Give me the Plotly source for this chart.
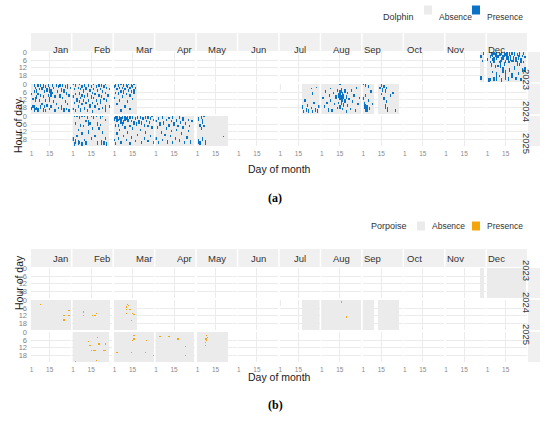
import plotly.graph_objects as go
import numpy as np

months = ["Jan", "Feb", "Mar", "Apr", "May", "Jun",
          "Jul", "Aug", "Sep", "Oct", "Nov", "Dec"]
years = ["2023", "2024", "2025"]
hour_ticks = [0, 6, 12, 18]
day_ticks = [1, 15]

# recording effort: (first day, last day[, first hour, last hour])
rec_2023_nov = [(28, 30)]
rec_2023_dec = [(1, 30)]
rec_2024_jan = [(1, 31)]
rec_2024_feb = [(1, 29)]
rec_2024_mar = [(1, 18)]
rec_2024_jul = [(1, 1, 0, 4), (18, 31)]
rec_2024_aug = [(1, 31)]
rec_2024_sep = [(1, 9), (13, 28)]
rec_2025_feb = [(1, 28)]
rec_2025_mar = [(1, 31)]
rec_2025_apr = [(1, 30)]
rec_2025_may = [(1, 24)]

# dolphin detections: (day, first hour, last hour)
dol_2023_nov = [(28, 2, 4), (28, 19, 21), (29, 6, 7), (30, 0, 1)]
dol_2023_dec = [(1, 5, 6), (2, 21, 23), (3, 2, 4), (3, 7, 8), (3, 21, 22), (4, 0, 2),
                (4, 9, 11), (5, 1, 3), (5, 5, 6), (5, 15, 16), (6, 0, 1), (6, 4, 8),
                (6, 20, 22), (7, 1, 3), (7, 10, 12), (8, 0, 5), (8, 16, 22), (9, 2, 4),
                (9, 10, 11), (10, 0, 2), (10, 7, 8), (10, 18, 19), (11, 1, 2), (11, 6, 12),
                (12, 0, 1), (12, 4, 7), (12, 21, 23), (13, 2, 5), (13, 12, 16), (14, 0, 3),
                (14, 8, 10), (15, 1, 2), (15, 6, 8), (15, 14, 21), (16, 0, 5), (17, 3, 8),
                (17, 20, 22), (18, 0, 2), (18, 7, 8), (18, 13, 15), (19, 2, 6), (20, 0, 1),
                (20, 6, 7), (20, 17, 20), (21, 3, 7), (22, 0, 2), (22, 11, 13), (23, 4, 7),
                (23, 20, 21), (24, 1, 2), (24, 7, 10), (25, 2, 5), (25, 16, 17), (26, 0, 3),
                (26, 9, 10), (27, 5, 8), (27, 21, 22), (28, 2, 3), (28, 13, 15), (29, 0, 1),
                (29, 7, 8), (30, 3, 4), (30, 12, 15)]
dol_2024_jan = [(1, 7, 8), (1, 18, 20), (2, 11, 12), (2, 17, 18), (3, 0, 1), (3, 5, 6),
                (3, 17, 21), (4, 2, 3), (4, 10, 13), (4, 19, 20), (5, 4, 6), (5, 9, 11),
                (5, 18, 20), (6, 0, 1), (6, 7, 8), (6, 19, 21), (7, 3, 4), (7, 12, 13),
                (8, 0, 1), (8, 8, 9), (8, 17, 19), (9, 2, 4), (9, 15, 16), (10, 0, 2),
                (10, 9, 10), (10, 19, 21), (11, 5, 6), (11, 17, 18), (12, 1, 2), (12, 12, 13),
                (12, 20, 21), (13, 3, 5), (13, 16, 17), (14, 0, 1), (14, 8, 9), (15, 2, 6),
                (15, 10, 13), (15, 19, 20), (16, 4, 9), (16, 17, 18), (17, 0, 1), (17, 6, 7),
                (18, 2, 3), (18, 13, 14), (19, 9, 10), (19, 20, 21), (20, 0, 1), (20, 15, 16),
                (21, 5, 6), (22, 1, 2), (22, 18, 19), (23, 0, 1), (23, 8, 10), (24, 3, 5),
                (24, 17, 20), (25, 0, 1), (25, 10, 11), (26, 4, 6), (26, 19, 21), (27, 1, 2),
                (27, 13, 14), (28, 6, 8), (28, 19, 20), (29, 0, 3), (29, 15, 16), (30, 8, 9),
                (30, 20, 21), (31, 2, 3)]
dol_2024_feb = [(1, 0, 0), (1, 9, 10), (1, 19, 20), (2, 3, 4), (2, 14, 15), (3, 0, 1),
                (3, 7, 8), (3, 20, 21), (4, 11, 13), (5, 2, 3), (5, 17, 18), (6, 0, 0),
                (6, 6, 8), (6, 13, 14), (7, 3, 4), (7, 10, 11), (7, 19, 21), (8, 1, 2),
                (8, 8, 9), (8, 15, 16), (9, 4, 6), (9, 12, 13), (10, 0, 1), (10, 9, 10),
                (10, 18, 20), (11, 2, 4), (11, 14, 15), (12, 7, 9), (12, 20, 21), (13, 0, 1),
                (13, 12, 13), (14, 4, 5), (14, 16, 18), (15, 1, 2), (15, 9, 11), (16, 6, 7),
                (16, 14, 15), (16, 21, 22), (17, 0, 0), (17, 3, 4), (17, 10, 11), (18, 7, 8),
                (18, 17, 18), (19, 1, 2), (19, 12, 13), (20, 4, 5), (20, 15, 16), (21, 0, 1),
                (21, 8, 9), (21, 19, 20), (22, 3, 4), (22, 12, 15), (23, 0, 1), (23, 9, 10),
                (24, 5, 6), (24, 18, 19), (25, 1, 2), (25, 11, 12), (26, 0, 0), (26, 6, 7),
                (26, 17, 21), (27, 2, 3), (27, 12, 13), (28, 8, 9), (29, 3, 4), (29, 17, 18)]
dol_2024_mar = [(1, 1, 2), (1, 10, 11), (2, 0, 1), (2, 6, 7), (3, 3, 4), (3, 15, 16),
                (4, 0, 1), (4, 6, 8), (5, 2, 3), (5, 12, 13), (6, 0, 0), (6, 5, 6),
                (6, 20, 21), (7, 2, 3), (7, 9, 10), (8, 0, 1), (8, 5, 7), (9, 3, 4),
                (9, 17, 18), (10, 0, 1), (10, 7, 8), (11, 1, 2), (11, 13, 14), (12, 0, 0),
                (12, 4, 5), (13, 2, 3), (13, 8, 9), (13, 19, 20), (14, 0, 1), (14, 5, 6),
                (15, 1, 2), (15, 11, 12), (16, 0, 0), (16, 4, 7), (17, 2, 3)]
dol_2024_jul = [(18, 17, 19), (19, 21, 22), (20, 12, 13), (21, 19, 21), (22, 16, 17),
                (23, 20, 22), (25, 3, 3), (25, 18, 19), (26, 6, 8), (26, 21, 22),
                (27, 14, 15), (28, 19, 21), (29, 2, 2), (30, 20, 22), (31, 17, 18)]
dol_2024_aug = [(2, 10, 11), (3, 17, 18), (4, 5, 6), (5, 14, 15), (6, 19, 21), (7, 8, 9),
                (8, 3, 3), (8, 12, 13), (9, 20, 21), (10, 6, 7), (11, 15, 16), (12, 9, 11),
                (13, 4, 5), (13, 18, 19), (14, 7, 10), (14, 14, 15), (15, 0, 0), (15, 5, 12),
                (15, 17, 19), (16, 3, 6), (16, 9, 16), (17, 6, 13), (17, 19, 20), (18, 8, 11),
                (18, 15, 17), (19, 4, 6), (19, 12, 14), (20, 9, 11), (20, 21, 22), (21, 6, 7),
                (21, 16, 17), (22, 11, 12), (23, 19, 20), (24, 4, 5), (25, 13, 14), (26, 8, 9),
                (27, 20, 21), (28, 2, 3), (29, 15, 16), (30, 10, 11)]
dol_2024_sep = [(1, 0, 0), (1, 10, 12), (2, 14, 19), (3, 0, 1), (3, 8, 9), (3, 16, 21),
                (4, 17, 21), (5, 1, 2), (5, 12, 13), (6, 18, 20), (7, 5, 6), (8, 15, 16),
                (14, 2, 3), (15, 0, 1), (15, 7, 8), (16, 3, 5), (17, 1, 2), (17, 10, 12),
                (18, 4, 6), (18, 16, 19), (19, 2, 3), (19, 13, 14), (20, 18, 21), (22, 8, 9),
                (24, 6, 7), (26, 20, 21)]
dol_2025_feb = [(1, 17, 19), (2, 0, 0), (2, 21, 23), (3, 5, 6), (3, 18, 21), (4, 0, 0),
                (4, 15, 16), (5, 10, 11), (5, 19, 22), (6, 0, 1), (6, 20, 21), (7, 6, 8),
                (8, 0, 0), (8, 13, 14), (8, 21, 23), (9, 7, 8), (10, 0, 0), (10, 18, 19),
                (11, 3, 4), (11, 20, 22), (12, 0, 1), (13, 3, 7), (13, 11, 13), (14, 5, 6),
                (15, 0, 0), (15, 17, 18), (16, 9, 10), (17, 0, 1), (18, 15, 16), (19, 0, 0),
                (20, 5, 7), (20, 20, 22), (21, 9, 10), (22, 0, 1), (22, 6, 7), (23, 19, 22),
                (24, 0, 0), (24, 12, 13), (25, 20, 22), (26, 2, 3), (26, 17, 18), (27, 21, 23)]
dol_2025_mar = [(1, 1, 3), (1, 18, 19), (2, 0, 1), (2, 6, 8), (2, 21, 22), (3, 0, 4),
                (3, 13, 14), (4, 2, 3), (4, 6, 8), (4, 17, 18), (5, 0, 2), (5, 10, 11),
                (6, 1, 5), (6, 20, 21), (7, 0, 1), (7, 5, 7), (8, 3, 5), (8, 15, 16),
                (9, 0, 3), (9, 8, 9), (10, 1, 2), (10, 18, 19), (11, 0, 4), (11, 12, 13),
                (12, 2, 4), (13, 0, 1), (13, 7, 8), (13, 21, 22), (14, 3, 4), (14, 16, 17),
                (15, 0, 1), (15, 9, 10), (16, 4, 6), (17, 1, 2), (17, 19, 20), (18, 5, 7),
                (19, 0, 1), (19, 14, 15), (20, 3, 5), (21, 0, 1), (21, 10, 11), (22, 4, 6),
                (22, 20, 21), (23, 1, 2), (24, 6, 8), (24, 17, 18), (25, 0, 1), (25, 12, 13),
                (26, 3, 4), (27, 0, 1), (27, 7, 8), (27, 19, 20), (28, 4, 5), (29, 1, 2),
                (29, 15, 16), (30, 0, 0), (30, 8, 9), (31, 2, 3), (31, 20, 21)]
dol_2025_apr = [(1, 3, 4), (1, 17, 18), (2, 8, 9), (3, 1, 2), (3, 20, 21), (4, 5, 7),
                (5, 12, 13), (6, 0, 1), (6, 18, 19), (7, 4, 6), (8, 14, 15), (9, 2, 3),
                (9, 9, 10), (10, 19, 21), (11, 1, 1), (11, 6, 8), (12, 15, 16), (13, 3, 4),
                (13, 11, 12), (14, 0, 1), (14, 20, 21), (15, 5, 7), (16, 17, 18), (17, 2, 4),
                (17, 10, 11), (18, 7, 8), (19, 0, 1), (19, 18, 20), (20, 4, 5), (21, 13, 14),
                (22, 1, 3), (22, 8, 9), (23, 20, 21), (24, 5, 6), (25, 16, 17), (26, 2, 3),
                (26, 11, 12), (27, 7, 8), (28, 19, 21), (29, 3, 4)]
dol_2025_may = [(2, 1, 3), (2, 18, 21), (3, 6, 8), (3, 20, 22), (4, 0, 1), (4, 9, 10),
                (5, 2, 5), (5, 17, 19), (6, 0, 0), (6, 7, 8), (7, 19, 22), (21, 16, 16)]

# porpoise detections: (day, hour)
por_2023_dec = [(29, 23)]
por_2024_jan = [(8, 3), (26, 12), (26, 15), (26, 16), (30, 8), (30, 12)]
por_2024_feb = [(9, 9), (9, 12), (16, 12), (18, 12), (19, 10)]
por_2024_mar = [(11, 3), (12, 4), (10, 5), (10, 7), (10, 10), (13, 7), (15, 10), (16, 11), (14, 16)]
por_2024_aug = [(16, 1), (20, 13)]
por_2025_feb = [(3, 23), (13, 7), (14, 10), (15, 14), (17, 14), (18, 14), (20, 4),
                (21, 9), (19, 22), (25, 14), (26, 14), (26, 9)]
por_2025_mar = [(3, 16), (14, 16), (16, 2), (16, 5), (15, 6), (26, 6), (25, 16), (31, 18)]
por_2025_apr = [(4, 3), (11, 3), (18, 5), (24, 11), (24, 18)]
por_2025_may = [(8, 2), (7, 5), (8, 5), (8, 6), (9, 4), (7, 8), (7, 10)]

# (year index, month index, effort, dolphin, porpoise)
facets = [
    (0, 10, rec_2023_nov, dol_2023_nov, []),
    (0, 11, rec_2023_dec, dol_2023_dec, por_2023_dec),
    (1, 0, rec_2024_jan, dol_2024_jan, por_2024_jan),
    (1, 1, rec_2024_feb, dol_2024_feb, por_2024_feb),
    (1, 2, rec_2024_mar, dol_2024_mar, por_2024_mar),
    (1, 6, rec_2024_jul, dol_2024_jul, []),
    (1, 7, rec_2024_aug, dol_2024_aug, por_2024_aug),
    (1, 8, rec_2024_sep, dol_2024_sep, []),
    (2, 1, rec_2025_feb, dol_2025_feb, por_2025_feb),
    (2, 2, rec_2025_mar, dol_2025_mar, por_2025_mar),
    (2, 3, rec_2025_apr, dol_2025_apr, por_2025_apr),
    (2, 4, rec_2025_may, dol_2025_may, por_2025_may),
]

species = ["Dolphin", "Porpoise"]
pres_colors = ["#0B72C6", "#F2A60C"]
ABS = "#EBEBEB"
STRIP = "#F0F0F0"
W, H = 550, 424


def px(x):
    return x / W


def py(y):
    return 1 - y / H


def grid(effort, runs):
    z = np.full((24, 31), np.nan)
    for r in effort:
        h0, h1 = (r[2], r[3]) if len(r) == 4 else (0, 23)
        z[h0:h1 + 1, r[0] - 1:r[1]] = 0
    for d, h0, h1 in runs:
        z[h0:h1 + 1, d - 1] = 1
    return z


fig = go.Figure()
layout = {}
shapes = []
annots = []

col_x = [31 + c * 41.45 for c in range(12)]
used = {(yi, mi): (eff, dol, por) for yi, mi, eff, dol, por in facets}
for p in range(2):
    off = p * 216
    row_y = [52 + r * 32 + off for r in range(3)]
    for r in range(3):
        for c in range(12):
            k = 1 + p * 36 + r * 12 + c
            sx = "" if k == 1 else str(k)
            layout["xaxis" + sx] = dict(
                domain=[px(col_x[c]), px(col_x[c] + 40)], anchor="y" + sx,
                range=[0.5, 31.5], tickvals=day_ticks, showticklabels=(r == 2),
                tickfont=dict(size=6.5, color="#8A8A8A"), ticks="", ticklabelstandoff=2,
                showgrid=True, gridcolor="#EBEBEB", gridwidth=0.8, zeroline=False,
                fixedrange=True)
            layout["yaxis" + sx] = dict(
                domain=[py(row_y[r] + 30), py(row_y[r])], anchor="x" + sx,
                range=[23.5, -0.5], tickvals=hour_ticks, showticklabels=(c == 0),
                tickfont=dict(size=7.5, color="#7F7F7F"), ticks="", ticklabelstandoff=3,
                showgrid=True, gridcolor="#EBEBEB", gridwidth=0.8, zeroline=False,
                fixedrange=True)
            if (r, c) in used:
                eff, dol, por = used[(r, c)]
                runs = dol if p == 0 else [(d, h, h) for d, h in por]
                fig.add_trace(go.Heatmap(
                    z=grid(eff, runs), x=list(range(1, 32)), y=list(range(24)),
                    zmin=0, zmax=1, showscale=False, hoverongaps=False,
                    colorscale=[[0, ABS], [0.5, ABS], [0.5, pres_colors[p]], [1, pres_colors[p]]],
                    xaxis="x" + sx, yaxis="y" + sx))
            else:
                # empty facet: invisible trace so the panel grid is drawn
                fig.add_trace(go.Scatter(x=[None], y=[None], mode="markers",
                                         xaxis="x" + sx, yaxis="y" + sx, hoverinfo="skip"))
    # month strips
    for c in range(12):
        shapes.append(dict(type="rect", xref="paper", yref="paper",
                           x0=px(col_x[c]), x1=px(col_x[c] + 40),
                           y0=py(51 + off), y1=py(33 + off),
                           fillcolor=STRIP, line_width=0, layer="below"))
        annots.append(dict(x=px(col_x[c] + 20), y=py(42 + off), xref="paper", yref="paper",
                           text=months[c], showarrow=False,
                           font=dict(size=9.5, color="#333333")))
    # year strips
    for r in range(3):
        shapes.append(dict(type="rect", xref="paper", yref="paper",
                           x0=px(528), x1=px(540), y0=py(row_y[r] + 30), y1=py(row_y[r]),
                           fillcolor=STRIP, line_width=0, layer="below"))
        annots.append(dict(x=px(534), y=py(row_y[r] + 15), xref="paper", yref="paper",
                           text=years[r], showarrow=False, textangle=90,
                           font=dict(size=9.5, color="#333333")))
    # axis titles and caption
    annots.append(dict(x=px(10.5), y=py(96 + off), xref="paper", yref="paper",
                       text="Hour of day", showarrow=False, textangle=-90,
                       font=dict(size=10.5, color="#1A1A1A")))
    annots.append(dict(x=px(279), y=py(169 + off), xref="paper", yref="paper",
                       text="Day of month", showarrow=False,
                       font=dict(size=10.5, color="#1A1A1A")))
    annots.append(dict(x=px(275), y=py(198 + off), xref="paper", yref="paper",
                       text="<b>(%s)</b>" % "ab"[p], showarrow=False,
                       font=dict(size=12, color="#000000", family="Liberation Serif")))
    # legend
    ly = 10 + off
    gx = 424 if p == 0 else 417
    annots.append(dict(x=px(gx - 8), y=py(ly), xref="paper", yref="paper",
                       text=species[p], showarrow=False, xanchor="right",
                       font=dict(size=9, color="#333333")))
    for bx, col, lab in [(gx, ABS, "Absence"), (472, pres_colors[p], "Presence")]:
        shapes.append(dict(type="rect", xref="paper", yref="paper",
                           x0=px(bx), x1=px(bx + 8), y0=py(ly + 4.5), y1=py(ly - 4.5),
                           fillcolor=col, line_width=0))
        annots.append(dict(x=px(bx + 13), y=py(ly), xref="paper", yref="paper",
                           text=lab, showarrow=False, xanchor="left",
                           font=dict(size=8.5, color="#333333")))

fig.update_layout(
    width=W, height=H, margin=dict(l=0, r=0, t=0, b=0, autoexpand=False),
    paper_bgcolor="white", plot_bgcolor="white",
    font=dict(family="Liberation Sans"),
    showlegend=False, shapes=shapes, annotations=annots, **layout)

fig.write_html("out.html", config={"displayModeBar": False},
               post_script="document.body.style.margin='0';")
